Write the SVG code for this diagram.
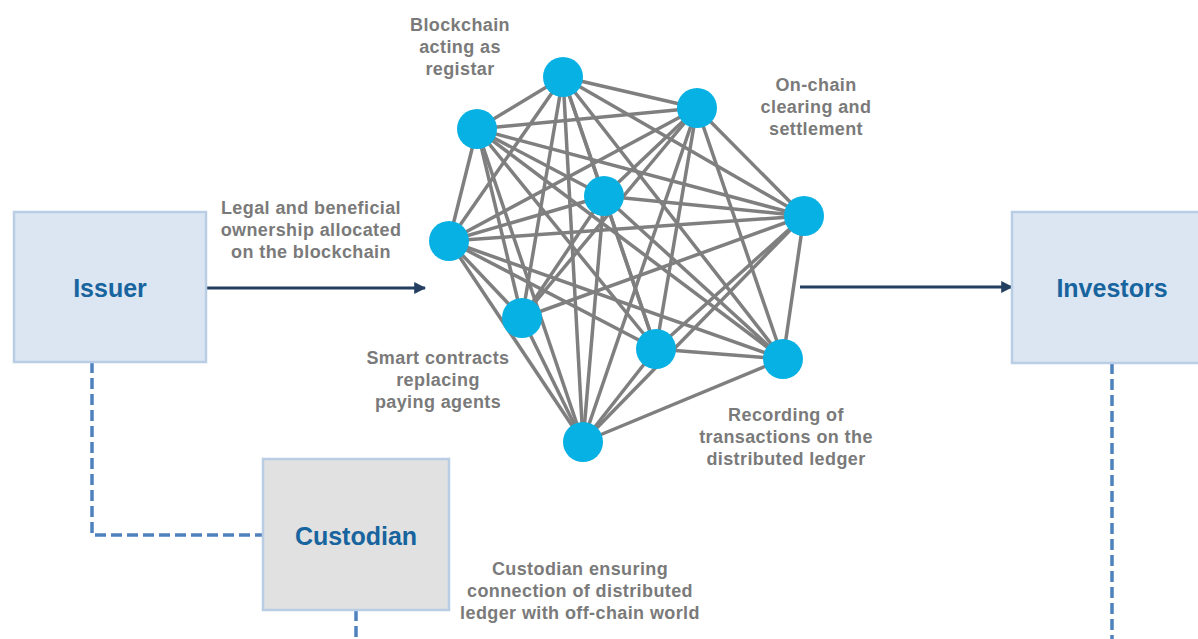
<svg xmlns="http://www.w3.org/2000/svg" width="1198" height="639" viewBox="0 0 1198 639">
<defs>
<style>
.box{fill:#dce6f2;stroke:#b9cde5;stroke-width:2.5}
.cust{fill:#e1e1e1;stroke:#b9cde5;stroke-width:2.5}
.title{font-family:"Liberation Sans",Arial,sans-serif;font-weight:bold;font-size:25px;fill:#17649e;text-anchor:middle}
.lbl{font-family:"Liberation Sans",Arial,sans-serif;font-weight:bold;font-size:18px;letter-spacing:0.4px;fill:#7a7a7a;text-anchor:middle}
.edge{stroke:#7f7f7f;stroke-width:3.5;fill:none}
.node{fill:#08b1e3}
.dash{stroke:#4f81bd;stroke-width:3.5;fill:none;stroke-dasharray:11 5}
.arrow{stroke:#243f60;stroke-width:3;fill:none}
</style>
<marker id="ah" viewBox="0 0 10 10" refX="9" refY="5" markerWidth="4" markerHeight="4" orient="auto" markerUnits="strokeWidth">
<path d="M0,0 L10,5 L0,10 z" fill="#243f60"/>
</marker>
</defs>

<g id="connectors">
<path class="dash" d="M92,362 V535 H263"/>
<path class="dash" d="M356,610 V639"/>
<path class="dash" d="M1112,363 V639"/>
<line class="arrow" x1="206" y1="288" x2="425" y2="288" marker-end="url(#ah)"/>
<line class="arrow" x1="800" y1="287" x2="1012" y2="287" marker-end="url(#ah)"/>
</g>

<g id="mesh-edges">
<line class="edge" x1="563" y1="77" x2="477" y2="129"/>
<line class="edge" x1="563" y1="77" x2="697" y2="108"/>
<line class="edge" x1="563" y1="77" x2="604" y2="196"/>
<line class="edge" x1="563" y1="77" x2="804" y2="216"/>
<line class="edge" x1="563" y1="77" x2="449" y2="241"/>
<line class="edge" x1="563" y1="77" x2="522" y2="318"/>
<line class="edge" x1="563" y1="77" x2="656" y2="349"/>
<line class="edge" x1="563" y1="77" x2="783" y2="359"/>
<line class="edge" x1="563" y1="77" x2="583" y2="442"/>
<line class="edge" x1="477" y1="129" x2="697" y2="108"/>
<line class="edge" x1="477" y1="129" x2="604" y2="196"/>
<line class="edge" x1="477" y1="129" x2="804" y2="216"/>
<line class="edge" x1="477" y1="129" x2="449" y2="241"/>
<line class="edge" x1="477" y1="129" x2="522" y2="318"/>
<line class="edge" x1="477" y1="129" x2="656" y2="349"/>
<line class="edge" x1="477" y1="129" x2="783" y2="359"/>
<line class="edge" x1="477" y1="129" x2="583" y2="442"/>
<line class="edge" x1="697" y1="108" x2="604" y2="196"/>
<line class="edge" x1="697" y1="108" x2="804" y2="216"/>
<line class="edge" x1="697" y1="108" x2="449" y2="241"/>
<line class="edge" x1="697" y1="108" x2="522" y2="318"/>
<line class="edge" x1="697" y1="108" x2="656" y2="349"/>
<line class="edge" x1="697" y1="108" x2="783" y2="359"/>
<line class="edge" x1="697" y1="108" x2="583" y2="442"/>
<line class="edge" x1="604" y1="196" x2="804" y2="216"/>
<line class="edge" x1="604" y1="196" x2="449" y2="241"/>
<line class="edge" x1="604" y1="196" x2="522" y2="318"/>
<line class="edge" x1="604" y1="196" x2="656" y2="349"/>
<line class="edge" x1="604" y1="196" x2="783" y2="359"/>
<line class="edge" x1="604" y1="196" x2="583" y2="442"/>
<line class="edge" x1="804" y1="216" x2="449" y2="241"/>
<line class="edge" x1="804" y1="216" x2="522" y2="318"/>
<line class="edge" x1="804" y1="216" x2="656" y2="349"/>
<line class="edge" x1="804" y1="216" x2="783" y2="359"/>
<line class="edge" x1="804" y1="216" x2="583" y2="442"/>
<line class="edge" x1="449" y1="241" x2="522" y2="318"/>
<line class="edge" x1="449" y1="241" x2="656" y2="349"/>
<line class="edge" x1="449" y1="241" x2="783" y2="359"/>
<line class="edge" x1="449" y1="241" x2="583" y2="442"/>
<line class="edge" x1="522" y1="318" x2="583" y2="442"/>
<line class="edge" x1="656" y1="349" x2="783" y2="359"/>
<line class="edge" x1="656" y1="349" x2="583" y2="442"/>
<line class="edge" x1="783" y1="359" x2="583" y2="442"/>
</g>

<g id="mesh-nodes">
<circle id="n-top" class="node" cx="563" cy="77" r="20"/>
<circle id="n-upleft" class="node" cx="477" cy="129" r="20"/>
<circle id="n-upright" class="node" cx="697" cy="108" r="20"/>
<circle id="n-center" class="node" cx="604" cy="196" r="20"/>
<circle id="n-right" class="node" cx="804" cy="216" r="20"/>
<circle id="n-left" class="node" cx="449" cy="241" r="20"/>
<circle id="n-lowleft" class="node" cx="522" cy="318" r="20"/>
<circle id="n-lowmid" class="node" cx="656" cy="349" r="20"/>
<circle id="n-lowright" class="node" cx="783" cy="359" r="20"/>
<circle id="n-bottom" class="node" cx="583" cy="442" r="20"/>
</g>

<g id="issuer">
<rect class="box" x="14" y="212" width="192" height="150"/>
<text class="title" x="110" y="297">Issuer</text>
</g>

<g id="investors">
<rect class="box" x="1012" y="212" width="196" height="151"/>
<text class="title" x="1112" y="297">Investors</text>
</g>

<g id="custodian">
<rect class="cust" x="263" y="459" width="186" height="151"/>
<text class="title" x="356" y="545">Custodian</text>
</g>

<g id="labels">
<text class="lbl" x="311" y="214">Legal and beneficial</text>
<text class="lbl" x="311" y="236">ownership allocated</text>
<text class="lbl" x="311" y="258">on the blockchain</text>

<text class="lbl" x="460" y="31">Blockchain</text>
<text class="lbl" x="460" y="53">acting as</text>
<text class="lbl" x="460" y="75">registar</text>

<text class="lbl" x="816" y="91">On-chain</text>
<text class="lbl" x="816" y="113">clearing and</text>
<text class="lbl" x="816" y="135">settlement</text>

<text class="lbl" x="438" y="364">Smart contracts</text>
<text class="lbl" x="438" y="386">replacing</text>
<text class="lbl" x="438" y="408">paying agents</text>

<text class="lbl" x="786" y="421">Recording of</text>
<text class="lbl" x="786" y="443">transactions on the</text>
<text class="lbl" x="786" y="465">distributed ledger</text>

<text class="lbl" x="580" y="575">Custodian ensuring</text>
<text class="lbl" x="580" y="597">connection of distributed</text>
<text class="lbl" x="580" y="619">ledger with off-chain world</text>
</g>
</svg>
